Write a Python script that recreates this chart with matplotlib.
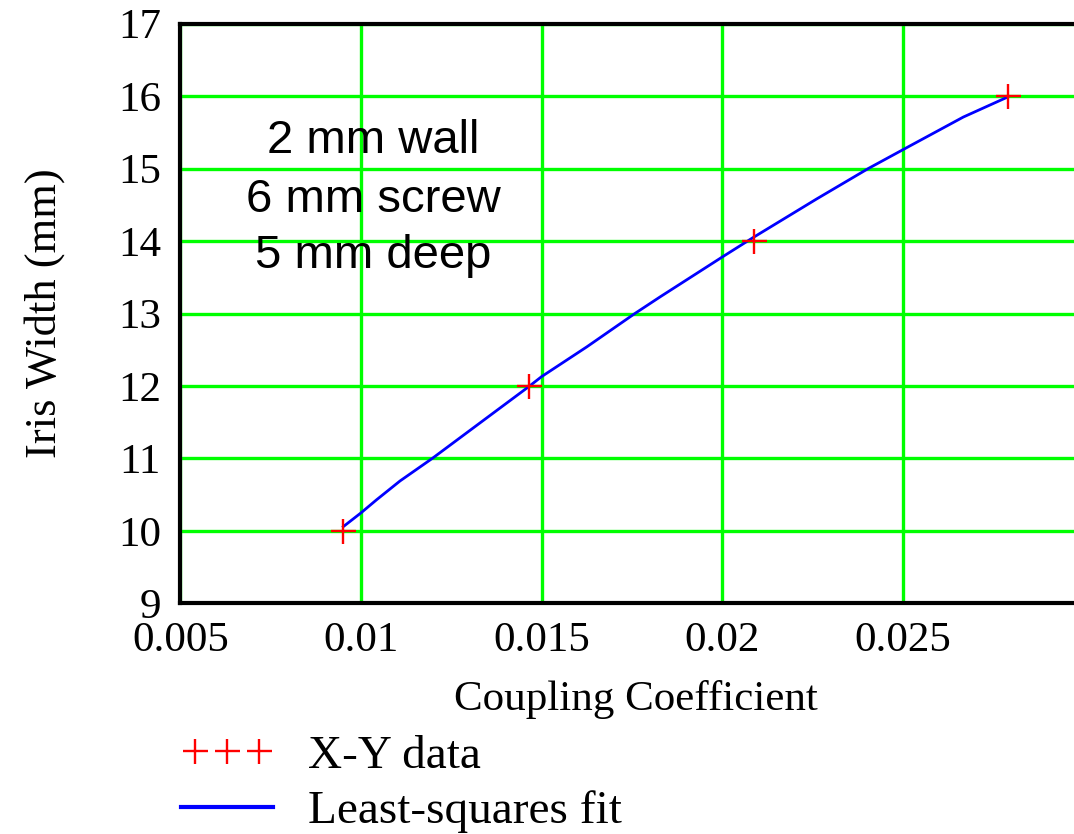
import matplotlib
matplotlib.use("Agg")
import matplotlib.pyplot as plt
from matplotlib.lines import Line2D
from matplotlib.legend_handler import HandlerLine2D

# Data
data_x = [0.00949, 0.01464, 0.02087, 0.02791]
data_y = [10, 12, 14, 16]

fit_x = [0.00951, 0.01000, 0.01043, 0.01108, 0.01197, 0.01464, 0.01500,
         0.01625, 0.01758, 0.01828, 0.02000, 0.02086, 0.02261, 0.02404,
         0.02500, 0.02667, 0.02787]
fit_y = [10.06, 10.25, 10.43, 10.69, 11.00, 11.99, 12.13,
         12.54, 13.00, 13.23, 13.78, 14.05, 14.58, 15.00,
         15.26, 15.71, 15.98]

x_ticks = [0.005, 0.01, 0.015, 0.02, 0.025]
x_tick_labels = ["0.005", "0.01", "0.015", "0.02", "0.025"]
y_ticks = [9, 10, 11, 12, 13, 14, 15, 16, 17]

note_lines = ["2 mm wall", "6 mm screw", "5 mm deep"]
note_y = [15.214, 14.40, 13.63]
note_x = 0.01033

legend_labels = ["X-Y data", "Least-squares fit"]

serif = ["Liberation Serif", "DejaVu Serif"]
sans = ["Liberation Sans", "DejaVu Sans"]

fig = plt.figure(figsize=(10.74, 8.34), dpi=100)
ax = fig.add_axes([0.1679, 0.2764, 0.8411, 0.6954])

ax.set_xlim(0.005, 0.03)
ax.set_ylim(9, 17)
ax.set_xticks(x_ticks)
ax.set_xticklabels(x_tick_labels)
ax.set_yticks(y_ticks)

ax.grid(True, color=(0, 1, 0), linewidth=2.4, zorder=0)
ax.set_axisbelow(True)

for s in ["left", "top", "bottom", "right"]:
    ax.spines[s].set_linewidth(3)
    ax.spines[s].set_color("black")

ax.tick_params(axis="both", length=0, labelsize=31)
ax.tick_params(axis="y", pad=14)
ax.tick_params(axis="x", pad=13)
for lab in ax.get_xticklabels() + ax.get_yticklabels():
    lab.set_family(serif)
    lab.set_color("black")

ax.plot(fit_x, fit_y, color="blue", linewidth=2.0, zorder=3)
ax.plot(data_x, data_y, linestyle="none", marker="+", color="red",
        markersize=18, markeredgewidth=1.7, zorder=4)

for t, yy in zip(note_lines, note_y):
    ax.text(note_x, yy, t, ha="center", va="baseline", fontsize=34,
            family=sans, color="black", zorder=5)

ax.set_xlabel("Coupling Coefficient", fontsize=31, family=serif)
ax.set_ylabel("Iris Width (mm)", fontsize=32, family=serif)
ax.xaxis.set_label_coords(0.5044, -0.132)
ax.yaxis.set_label_coords(-0.128, 0.5)

h_data = Line2D([], [], linestyle="none", marker="+", color="red",
                markersize=18, markeredgewidth=1.7)
h_fit = Line2D([], [], color="blue", linewidth=3)
fig.legend([h_data, h_fit], legend_labels, loc="upper left",
           bbox_to_anchor=(0.1685, 0.119), frameon=False, numpoints=3,
           handlelength=1.95, handletextpad=0.75, labelspacing=0.26,
           borderpad=0, borderaxespad=0,
           handler_map={h_fit: HandlerLine2D(marker_pad=0)},
           prop={"family": serif, "size": 34})

fig.savefig("out.png", dpi=100)
